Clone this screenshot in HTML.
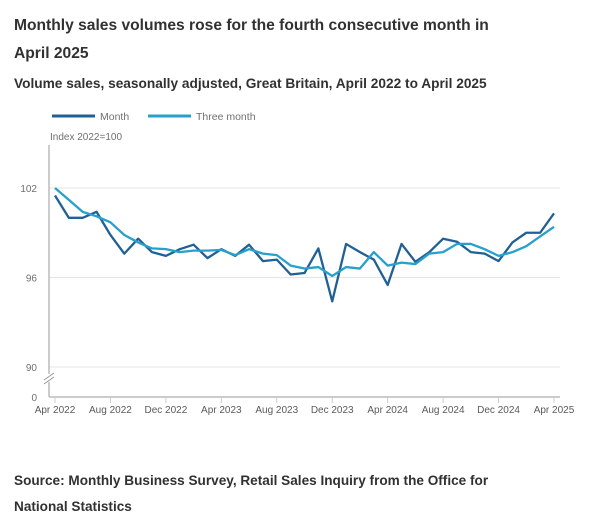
<!DOCTYPE html>
<html><head><meta charset="utf-8"><style>
body{margin:0;width:600px;height:522px;background:#fff;font-family:"Liberation Sans",sans-serif;color:#323132;overflow:hidden;position:relative}
.t{position:absolute;left:14px;font-weight:bold}
</style></head><body>
<div class="t" style="top:12px;font-size:15.6px;line-height:28px;width:500px">Monthly sales volumes rose for the fourth consecutive month in April 2025</div>
<div class="t" style="top:76px;font-size:13.7px">Volume sales, seasonally adjusted, Great Britain, April 2022 to April 2025</div>
<svg width="600" height="522" style="position:absolute;left:0;top:0" id="chart"></svg>
<div class="t" style="top:468px;font-size:13.6px;line-height:26px;width:500px">Source: Monthly Business Survey, Retail Sales Inquiry from the Office for National Statistics</div>
<script>
const monthValues=[101.5,100.0,100.0,100.4,98.85,97.6,98.6,97.7,97.45,97.9,98.2,97.3,97.9,97.45,98.2,97.1,97.2,96.2,96.3,97.95,94.4,98.25,97.7,97.2,95.5,98.25,97.05,97.7,98.6,98.4,97.7,97.6,97.1,98.35,99.0,99.0,100.3];
const threeMonthValues=[102.0,101.2,100.4,100.1,99.7,98.85,98.35,97.95,97.9,97.7,97.8,97.8,97.85,97.5,97.9,97.6,97.5,96.8,96.6,96.7,96.1,96.7,96.6,97.7,96.8,97.0,96.9,97.6,97.7,98.25,98.25,97.9,97.45,97.7,98.1,98.75,99.4];
const xTickLabels=["Apr 2022","Aug 2022","Dec 2022","Apr 2023","Aug 2023","Dec 2023","Apr 2024","Aug 2024","Dec 2024","Apr 2025"];
const yTicks=[102,96,90];
const NS="http://www.w3.org/2000/svg";
const svg=document.getElementById('chart');
function x(i){return 55+i*(554-55)/36;}
function y(v){return v<90?397:188+(102-v)*89.5/6;}
function el(t,a,p){const e=document.createElementNS(NS,t);for(const k in a)e.setAttribute(k,a[k]);(p||svg).appendChild(e);return e;}
yTicks.forEach(v=>{
 const g=el('line',{x1:49,x2:560,y1:y(v),y2:y(v),stroke:'#e4e4e8','stroke-width':1});
 
 
 const t=el('text',{x:37,y:y(v)+4,'text-anchor':'end','font-size':10,fill:'#707071'});
 t.textContent=v;
 
 
});
const z=el('text',{x:37,y:401,'text-anchor':'end','font-size':10,fill:'#707071'});z.textContent='0';


const ya=el('line',{x1:49,x2:49,y1:145,y2:397,stroke:'#bbb','stroke-width':1.5});


const xa=el('line',{x1:49,x2:560,y1:397,y2:397,stroke:'#bbb','stroke-width':1.5});


const br=el('rect',{x:44,y:374,width:10,height:8,fill:'#fff'});


el('line',{x1:44,y1:380,x2:54,y2:373,stroke:'#999'});
el('line',{x1:44,y1:384,x2:54,y2:377,stroke:'#999'});
const yt=el('text',{x:50,y:140,'font-size':10,fill:'#707071'});yt.textContent='Index 2022=100';


xTickLabels.forEach((l,k)=>{
 const xi=x(k*4);
 el('line',{x1:xi,x2:xi,y1:397,y2:403,stroke:'#ccc'});
 const t=el('text',{x:xi,y:413,'text-anchor':'middle','font-size':10,fill:'#5a5a5a'});
 t.textContent=l;
 
 
});
function line(vals,col,name){
 const p=el('polyline',{points:vals.map((v,i)=>x(i)+','+y(v)).join(' '),fill:'none',stroke:col,'stroke-width':2.3,'stroke-linejoin':'round'});
 
 
}
line(monthValues,'#206095','month-line');
line(threeMonthValues,'#27a0cc','three-month-line');
[['Month','#206095',52],['Three month','#27a0cc',148]].forEach(([n,c,lx])=>{
 const g=el('g',{});
 
 
 el('line',{x1:lx,x2:lx+43,y1:116,y2:116,stroke:c,'stroke-width':3},g);
 const t=el('text',{x:lx+48,y:120,'font-size':10.5,fill:'#707071'},g);t.textContent=n;
});
</script>
</body></html>
